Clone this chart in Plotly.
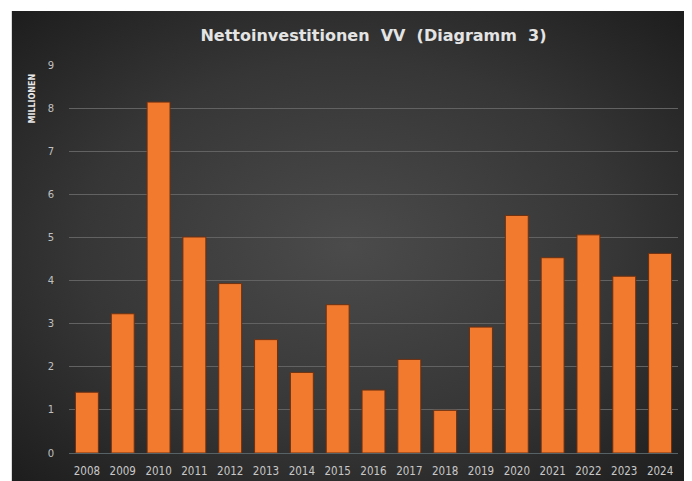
import base64
import plotly.graph_objects as go

years = ["2008", "2009", "2010", "2011", "2012", "2013", "2014", "2015", "2016",
         "2017", "2018", "2019", "2020", "2021", "2022", "2023", "2024"]
values = [1.41, 3.23, 8.14, 5.01, 3.93, 2.63, 1.87, 3.44, 1.46,
          2.17, 0.99, 2.92, 5.51, 4.53, 5.06, 4.10, 4.63]
y_ticks = list(range(0, 10))

# page offset (browser body margin)
OFF = 8
W, H = 692 - OFF, 481 - OFF
# reference pixel geometry
PL, PR, PT, PB = 68.5, 678.5, 65, 453
ML, MR, MT, MB = PL - OFF, W - (PR - OFF), PT - OFF, H - (PB - OFF)
PW, PH = W - ML - MR, H - MT - MB

def px_to_paper_x(px):
    return (px - PL) / PW

def px_to_paper_y(py):
    return (PB - py) / PH

svg = ('<svg xmlns="http://www.w3.org/2000/svg" width="677" height="470" preserveAspectRatio="none">'
       '<defs><radialGradient id="g" cx="50%" cy="50%" r="72%">'
       '<stop offset="0" stop-color="#4b4b4b"/>'
       '<stop offset="0.55" stop-color="#363636"/>'
       '<stop offset="1" stop-color="#1c1c1c"/>'
       '</radialGradient></defs>'
       '<rect width="677" height="470" fill="url(#g)"/></svg>')
src = "data:image/svg+xml;base64," + base64.b64encode(svg.encode()).decode()

fig = go.Figure()
fig.add_trace(go.Bar(
    x=years, y=values,
    marker=dict(color="#F27A2E", line=dict(color="#6e3010", width=1)),
    hoverinfo="x+y",
))

bx0, bx1 = px_to_paper_x(11), px_to_paper_x(688)
by1, by0 = px_to_paper_y(11), px_to_paper_y(481)
fig.add_layout_image(dict(
    source=src, xref="paper", yref="paper",
    x=bx0, y=by1, sizex=bx1 - bx0, sizey=by1 - by0,
    sizing="stretch", xanchor="left", yanchor="top", layer="below",
))

fig.add_annotation(
    text="<b>MILLIONEN</b>", textangle=-90,
    xref="paper", yref="paper",
    x=px_to_paper_x(31), y=px_to_paper_y(99),
    xanchor="center", yanchor="middle",
    showarrow=False, font=dict(family="DejaVu Sans", size=8, color="#e8e8e8"),
)

fig.update_layout(
    width=W, height=H,
    margin=dict(l=ML, r=MR, t=MT, b=MB, pad=0, autoexpand=False),
    paper_bgcolor="white",
    plot_bgcolor="rgba(0,0,0,0)",
    bargap=0.36,
    showlegend=False,
    title=dict(
        text="<b>Nettoinvestitionen  VV  (Diagramm  3)</b>",
        x=0.5, xref="paper", y=1 - (35 - OFF) / H, yref="container",
        xanchor="center", yanchor="middle",
        font=dict(family="DejaVu Sans", size=16, color="#e4e4e4"),
    ),
    xaxis=dict(
        showgrid=False, showline=True, linecolor="#566266", linewidth=1,
        tickfont=dict(family="DejaVu Sans Condensed", size=11.5, color="#c8c8c8"),
        ticklabelstandoff=7, zeroline=False, automargin=False,
    ),
    yaxis=dict(
        range=[0, 9], tickvals=y_ticks, showgrid=True, gridcolor="#626262", gridwidth=1,
        zeroline=False, showline=False, automargin=False,
        tickfont=dict(family="DejaVu Sans", size=10, color="#c0c0c0"),
        ticklabelstandoff=14,
    ),
)

fig.write_html("out.html")
